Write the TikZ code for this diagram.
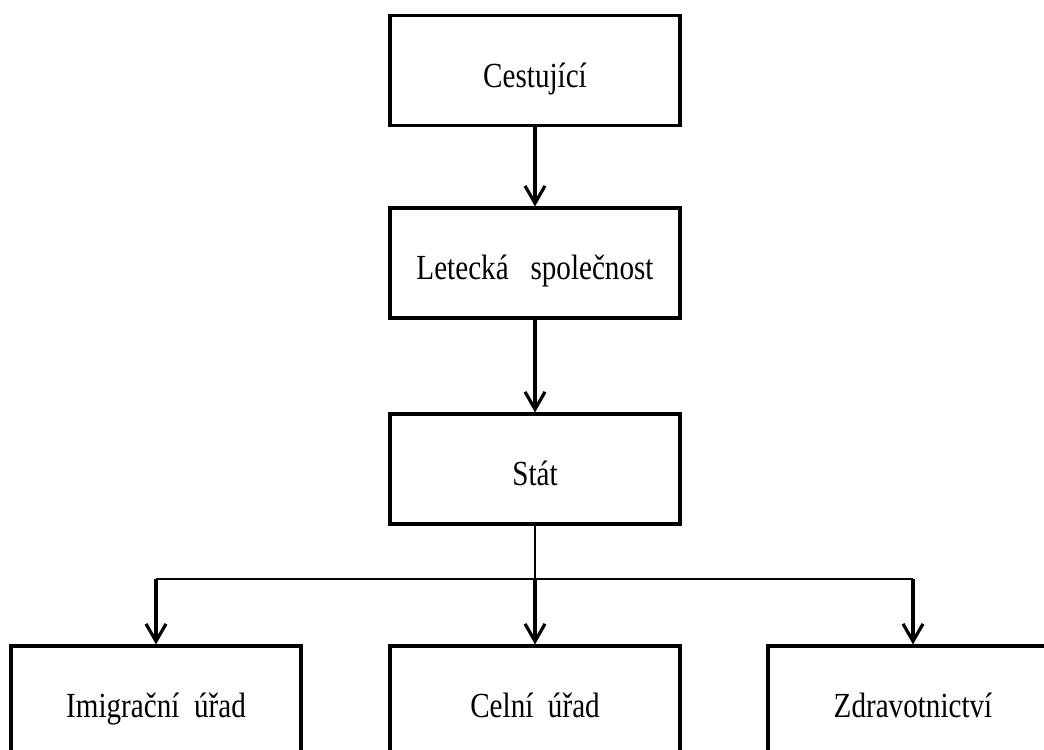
\documentclass[tikz,border=0pt]{standalone}
\usepackage{fontspec}
\setmainfont{Liberation Serif}
\usetikzlibrary{arrows.meta}
\newcommand{\boxtext}[1]{\scalebox{0.95}[1.15]{#1}}
\begin{document}
\begin{tikzpicture}[x=0.75pt,y=-0.75pt,
  box/.style={draw=black, line width=2.4pt, fill=white, minimum width=217.5pt, minimum height=82.5pt, inner sep=0pt, text height=24.8pt, text depth=0pt, font=\fontsize{23}{27}\selectfont},
  thickarrow/.style={draw=black, line width=2.4pt, -{Straight Barb[length=13pt,width=15pt,line width=2.4pt]}},
  thinline/.style={draw=black, line width=1.1pt}]
\useasboundingbox (0,0) rectangle (1044,749);
\clip (0,0) rectangle (1044,749);
\fill[white] (0,0) rectangle (1044,749);
\node[box] (ces) at (535,70.5) {\boxtext{Cestující}};
\node[box] (let) at (535,263) {\boxtext{Letecká\ \ \ společnost}};
\node[box] (stat) at (535,469) {\boxtext{Stát}};
\node[box] (imig) at (156,701) {\boxtext{Imigrační\ \ úřad}};
\node[box] (celni) at (535,701) {\boxtext{Celní\ \ úřad}};
\node[box] (zdrav) at (913,701) {\boxtext{Zdravotnictví}};
\coordinate (j) at (535,579);
\coordinate (jl) at (imig.north |- j);
\coordinate (jr) at (zdrav.north |- j);
\draw[thickarrow] (ces.south) -- (let.north);
\draw[thickarrow] (let.south) -- (stat.north);
\draw[thinline] (stat.south) -- (j);
\draw[thinline] (jl) -- (jr);
\draw[thickarrow] (jl) -- (imig.north);
\draw[thickarrow] (j) -- (celni.north);
\draw[thickarrow] (jr) -- (zdrav.north);
\end{tikzpicture}
\end{document}
